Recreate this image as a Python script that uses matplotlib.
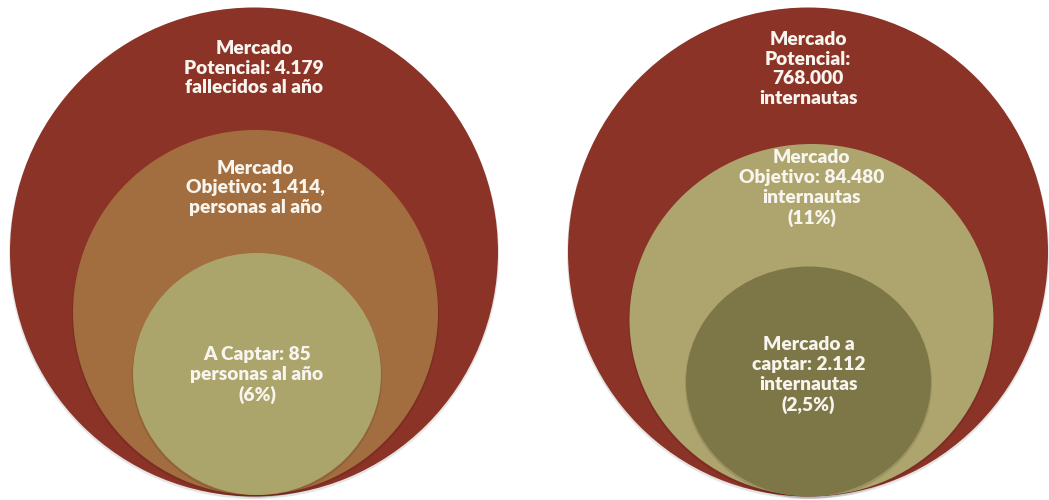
import matplotlib
matplotlib.use("Agg")
import matplotlib.pyplot as plt
from matplotlib.patches import Ellipse

# Nested market diagrams (values as labels; circle sizes)
left_labels = [
    "Mercado\nPotencial: 4.179\nfallecidos al año",
    "Mercado\nObjetivo: 1.414,\npersonas al año",
    "A Captar: 85\npersonas al año\n(6%)",
]
right_labels = [
    "Mercado\nPotencial:\n768.000\ninternautas",
    "Mercado\nObjetivo: 84.480\ninternautas\n(11%)",
    "Mercado a\ncaptar: 2.112\ninternautas\n(2,5%)",
]
left_colors = ["#8C3327", "#A26E3F", "#ABA46B"]
right_colors = ["#8C3327", "#ADA56D", "#7D7647"]

# circle geometry (pixels): center x, center y, width, height
left_geom = [(254, 252, 488, 489), (255.5, 312.5, 365, 365), (257, 374, 248, 242)]
right_geom = [(808, 252, 480, 489), (811.5, 320, 364, 352), (808.5, 381.5, 245, 230)]
left_text_y = [68, 188, 375]
right_text_y = [69, 188, 375]

fig = plt.figure(figsize=(10.49, 5.0), dpi=100)
ax = fig.add_axes([0, 0, 1, 1])
ax.set_xlim(0, 1049)
ax.set_ylim(500, 0)
ax.axis("off")

def draw(geom, colors, labels, text_y):
    for (cx, cy, w, h), col in zip(geom, colors):
        # soft shadow
        ax.add_patch(Ellipse((cx, cy + 2), w + 2, h + 1, facecolor="#000000",
                             alpha=0.10, edgecolor="none"))
        ax.add_patch(Ellipse((cx, cy), w, h, facecolor=col, edgecolor="none"))
    for (cx, cy, w, h), lab, ty in zip(geom, labels, text_y):
        ax.text(cx, ty, lab, ha="center", va="center", color="#F8F4EE",
                fontsize=13.8, fontweight="heavy", family=["Lato", "DejaVu Sans"],
                linespacing=1.2)

draw(left_geom, left_colors, left_labels, left_text_y)
draw(right_geom, right_colors, right_labels, right_text_y)

fig.savefig("out.png", dpi=100, facecolor="white")
